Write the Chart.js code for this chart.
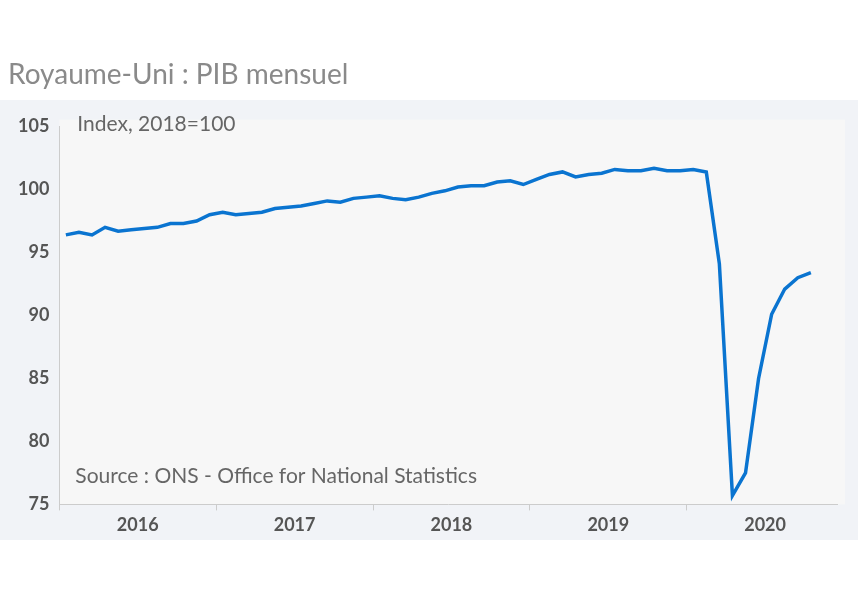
<!DOCTYPE html>
<html><head><meta charset="utf-8">
<script src="https://cdn.jsdelivr.net/npm/chart.js@4"></script>
<style>body{margin:0;background:#fff}#wrap{width:858px;height:600px}</style>
</head><body><div id="wrap"><canvas id="c"></canvas></div>
<script>
const years = ['2016', '2017', '2018', '2019', '2020'];
const pib = [
  96.4, 96.6, 96.4, 97.0, 96.7, 96.8, 96.9, 97.0, 97.3, 97.3, 97.5, 98.0,
  98.2, 98.0, 98.1, 98.2, 98.5, 98.6, 98.7, 98.9, 99.1, 99.0, 99.3, 99.4,
  99.5, 99.3, 99.2, 99.4, 99.7, 99.9, 100.2, 100.3, 100.3, 100.6, 100.7, 100.4,
  100.8, 101.2, 101.4, 101.0, 101.2, 101.3, 101.6, 101.5, 101.5, 101.7, 101.5, 101.5,
  101.6, 101.4, 94.1, 75.7, 77.5, 85.0, 90.1, 92.1, 93.0, 93.4
];
const yTicks = [75, 80, 85, 90, 95, 100, 105];

const points = pib.map((v, i) => ({ x: i, y: v }));

const fond = {
  id: 'fond',
  beforeDraw(chart) {
    const { ctx, chartArea: a } = chart;
    ctx.save();
    ctx.fillStyle = '#f1f3f7';
    ctx.fillRect(0, 100, 858, 440);
    ctx.fillStyle = '#f7f7f7';
    ctx.fillRect(a.left, a.top - 7, 845 - a.left, a.bottom - a.top + 7);
    ctx.restore();
  },
  afterDraw(chart) {
    const { ctx, chartArea: a } = chart;
    ctx.save();
    ctx.fillStyle = '#666';
    ctx.font = '21px Lato';
    ctx.textBaseline = 'middle';
    ctx.fillText('Index, 2018=100', a.left + 18, a.top - 2);
    ctx.fillText('Source : ONS - Office for National Statistics', a.left + 16, a.bottom - 28);
    ctx.restore();
  }
};

new Chart(document.getElementById('c'), {
  type: 'line',
  data: {
    datasets: [{
      data: points,
      borderColor: '#0a74d0',
      borderWidth: 3.5,
      pointRadius: 0,
      tension: 0,
      xAxisID: 'x'
    }]
  },
  options: {
    responsive: true,
    maintainAspectRatio: false,
    animation: false,
    layout: { padding: { top: 0, right: 21, bottom: 68, left: 8 } },
    plugins: {
      legend: { display: false },
      tooltip: { enabled: false },
      title: {
        display: true,
        text: 'Royaume-Uni : PIB mensuel',
        align: 'start',
        color: '#8a8a8a',
        font: { family: 'Lato', size: 28, weight: 'normal' },
        padding: { top: 58, bottom: 35 }
      }
    },
    scales: {
      x: {
        type: 'linear',
        min: -0.5,
        max: 59,
        afterBuildTicks(ax) { ax.ticks = years.map((y, i) => ({ value: i * 12 - 0.5 })); },
        ticks: { display: false },
        grid: { drawOnChartArea: false, color: '#ccc', tickLength: 6 },
        border: { color: '#ccc' }
      },
      x2: {
        type: 'linear',
        position: 'bottom',
        min: -0.5,
        max: 59,
        afterBuildTicks(ax) { ax.ticks = years.map((y, i) => ({ value: i * 12 + 5.5 })); },
        ticks: {
          callback: (v, i) => years[i],
          color: '#555',
          font: { family: 'Lato', size: 18, weight: 'bold' },
          padding: -4
        },
        grid: { display: false },
        border: { display: false }
      },
      y: {
        min: 75,
        max: 105,
        afterBuildTicks(ax) { ax.ticks = yTicks.map(v => ({ value: v })); },
        ticks: { color: '#555', font: { family: 'Lato', size: 18, weight: 'bold' }, padding: 10 },
        grid: { display: false, tickLength: 0 },
        border: { color: '#ccc' }
      }
    }
  },
  plugins: [fond]
});
</script></body></html>
